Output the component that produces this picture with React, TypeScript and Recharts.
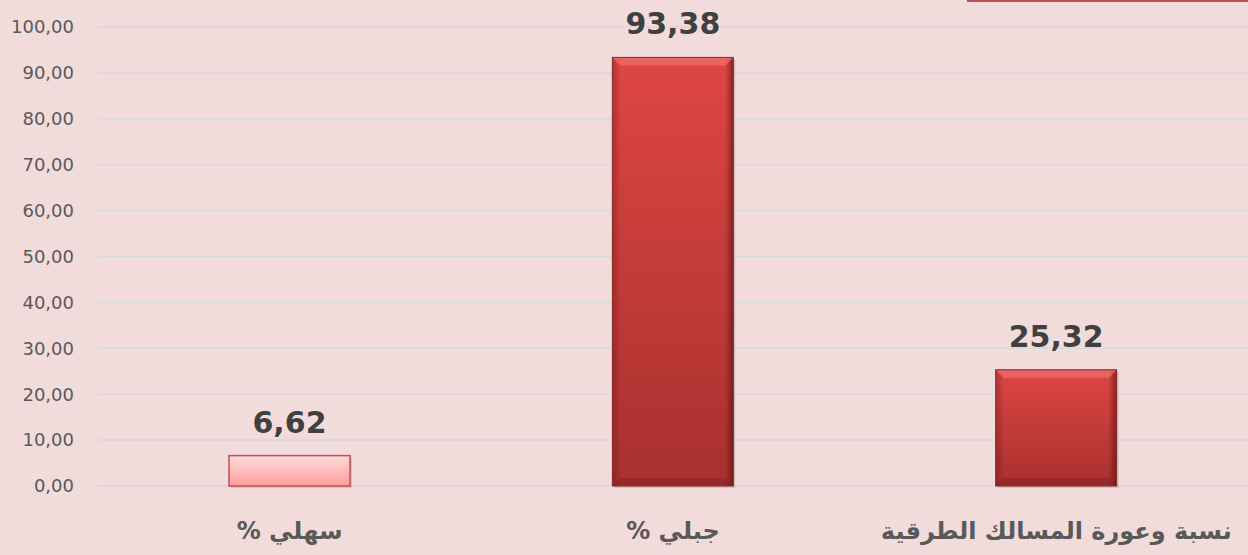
import React from "react";
import { BarChart, Bar, XAxis, YAxis, CartesianGrid, LabelList } from "recharts";

const categories = ["سهلي %", "جبلي %", "نسبة وعورة المسالك الطرقية"];
const values = [6.62, 93.38, 25.32];
const yTicks = [0, 10, 20, 30, 40, 50, 60, 70, 80, 90, 100];

const data = categories.map((name, i) => ({ name, value: values[i] }));

const fmt = (v: number) => v.toFixed(2).replace(".", ",");

// pink gradient for the first bar, red for the others
const BarShape = (props: any) => {
  const { x, y, width, height, index } = props;
  if (height <= 0) return null;
  const light = index === 0;
  const fillId = light ? "gLight" : "gRed";
  const bev = Math.min(8, height / 3);
  return (
    <g>
      <rect x={x + 2} y={y + 2} width={width} height={height} fill="#000" opacity={0.12} />
      <rect x={x} y={y} width={width} height={height} fill={`url(#${fillId})`} />
      {!light && (
        <>
          <rect x={x} y={y} width={width} height={height} fill="url(#gSides)" />
          <polygon
            points={`${x},${y} ${x + width},${y} ${x + width - bev},${y + bev} ${x + bev},${y + bev}`}
            fill="#F07070"
            opacity={0.7}
          />
          <polygon
            points={`${x},${y + height} ${x + width},${y + height} ${x + width - bev},${y + height - bev} ${x + bev},${y + height - bev}`}
            fill="#7A1E1C"
            opacity={0.35}
          />
        </>
      )}
      <rect
        x={x}
        y={y}
        width={width}
        height={height}
        fill="none"
        stroke={light ? "#C0504D" : "#8E2A28"}
        strokeWidth={light ? 1.5 : 1}
      />
    </g>
  );
};

const ValueLabel = (props: any) => {
  const { x, y, width, value } = props;
  return (
    <text
      x={x + width / 2}
      y={y - 23}
      textAnchor="middle"
      fill="#404040"
      style={{ fontFamily: "DejaVu Sans", fontWeight: 700, fontSize: 30 }}
    >
      {fmt(value)}
    </text>
  );
};

const CatTick = (props: any) => {
  const { x, payload } = props;
  return (
    <text
      x={x}
      y={539}
      textAnchor="middle"
      direction="rtl"
      fill="#595959"
      style={{ fontFamily: "DejaVu Sans", fontWeight: 700, fontSize: 24 }}
    >
      {payload.value}
    </text>
  );
};

export default function App() {
  return (
    <div
      style={{
        position: "absolute",
        left: 0,
        top: 0,
        width: 1248,
        height: 555,
        background: "#F2DCDB",
        overflow: "hidden",
      }}
    >
      <div
        style={{
          position: "absolute",
          left: 967,
          top: 0,
          width: 281,
          height: 2,
          background: "#C0504D",
        }}
      />
      <BarChart
        width={1248}
        height={555}
        data={data}
        margin={{ top: 27, right: 0, bottom: 0, left: 0 }}
        barCategoryGap="34%"
      >
        <defs>
          <linearGradient id="gLight" x1="0" y1="0" x2="0" y2="1">
            <stop offset="0%" stopColor="#FFDCDC" />
            <stop offset="100%" stopColor="#FF9C9C" />
          </linearGradient>
          <linearGradient id="gRed" x1="0" y1="0" x2="0" y2="1">
            <stop offset="0%" stopColor="#DE4644" />
            <stop offset="100%" stopColor="#A8302E" />
          </linearGradient>
          <linearGradient id="gSides" x1="0" y1="0" x2="1" y2="0">
            <stop offset="0%" stopColor="#5A1010" stopOpacity={0.35} />
            <stop offset="7%" stopColor="#5A1010" stopOpacity={0} />
            <stop offset="93%" stopColor="#5A1010" stopOpacity={0} />
            <stop offset="100%" stopColor="#3A0808" stopOpacity={0.55} />
          </linearGradient>
        </defs>
        <CartesianGrid vertical={false} stroke="#D6D9DA" strokeWidth={1.5} />
        <XAxis
          dataKey="name"
          height={69}
          axisLine={false}
          tickLine={false}
          tick={<CatTick />}
          interval={0}
        />
        <YAxis
          domain={[0, 100]}
          ticks={yTicks}
          width={98}
          axisLine={false}
          tickLine={false}
          tickSize={0}
          tickMargin={24}
          tickFormatter={fmt}
          tick={{ fill: "#595959", fontSize: 18, fontFamily: "DejaVu Sans" }}
        />
        <Bar dataKey="value" barSize={121} shape={<BarShape />} isAnimationActive={false}>
          <LabelList dataKey="value" content={<ValueLabel />} />
        </Bar>
      </BarChart>
    </div>
  );
}
